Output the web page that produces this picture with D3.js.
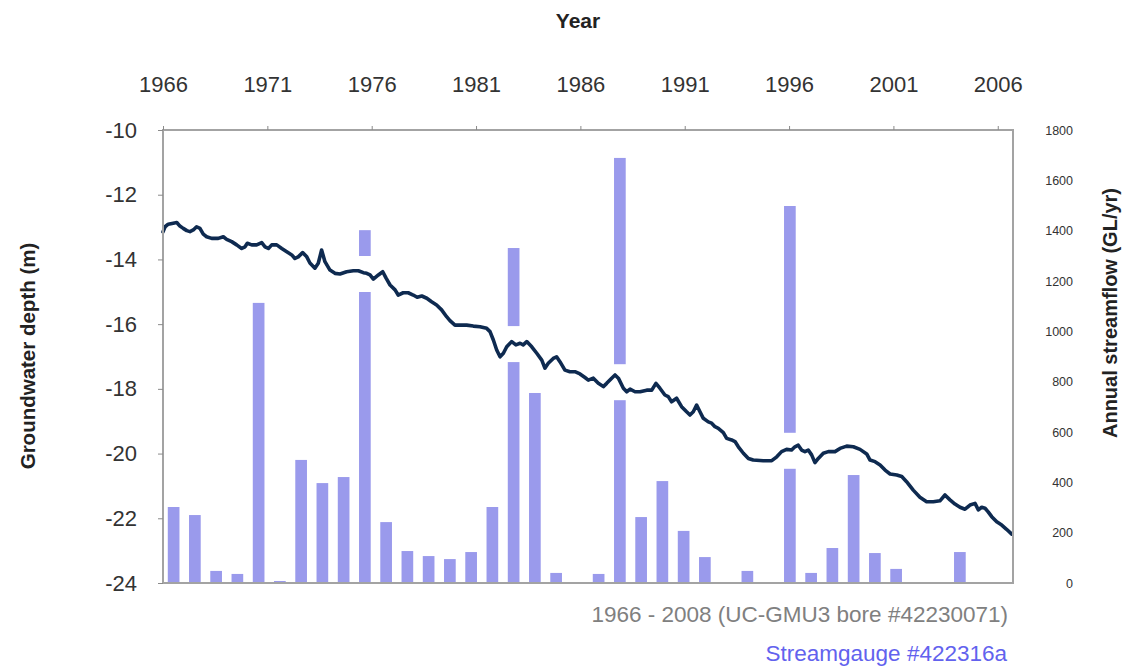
<!DOCTYPE html>
<html><head><meta charset="utf-8">
<script src="https://cdn.jsdelivr.net/npm/d3@7"></script>
<style>body{margin:0;background:#fff}svg{display:block}</style>
</head><body>
<svg id="chart" width="1128" height="672"></svg>
<script>
const flowYears = [1966,1967,1968,1969,1970,1971,1972,1973,1974,1975,1976,1977,1978,1979,1980,1981,1982,1983,1984,1985,1986,1987,1988,1989,1990,1991,1992,1993,1994,1995,1996,1997,1998,1999,2000,2001,2002,2003,2004,2005];
const flowValues = [302,270,48,36,1113,8,489,397,421,1402,242,127,107,95,123,302,1331,755,40,0,36,1689,262,405,207,103,0,48,0,1498,40,139,429,119,56,0,0,123,0,0];

const gwYears = [1966.00,1966.10,1966.25,1966.49,1966.66,1966.81,1966.97,1967.14,1967.29,1967.45,1967.61,1967.77,1967.93,1968.09,1968.33,1968.65,1968.89,1969.05,1969.29,1969.53,1969.77,1969.93,1970.04,1970.25,1970.49,1970.73,1970.89,1971.05,1971.21,1971.45,1971.69,1971.93,1972.17,1972.32,1972.48,1972.69,1972.89,1973.04,1973.28,1973.44,1973.60,1973.76,1974.00,1974.24,1974.48,1974.80,1975.12,1975.36,1975.60,1975.76,1975.92,1976.08,1976.32,1976.53,1976.69,1976.88,1977.12,1977.27,1977.51,1977.75,1977.99,1978.18,1978.40,1978.64,1978.87,1979.11,1979.35,1979.59,1979.75,1979.99,1980.23,1980.55,1980.87,1981.19,1981.51,1981.67,1981.83,1981.99,1982.15,1982.31,1982.47,1982.71,1982.91,1983.11,1983.26,1983.43,1983.67,1983.91,1984.15,1984.30,1984.46,1984.70,1984.86,1985.02,1985.26,1985.50,1985.74,1985.98,1986.22,1986.38,1986.62,1986.86,1987.10,1987.26,1987.50,1987.66,1987.82,1988.06,1988.22,1988.38,1988.62,1988.86,1989.18,1989.42,1989.62,1989.81,1990.05,1990.21,1990.37,1990.61,1990.85,1991.09,1991.25,1991.41,1991.57,1991.73,1991.89,1992.13,1992.29,1992.45,1992.61,1992.85,1993.01,1993.25,1993.41,1993.57,1993.81,1994.05,1994.28,1994.76,1995.17,1995.41,1995.64,1995.88,1996.12,1996.28,1996.44,1996.60,1996.76,1996.92,1997.08,1997.24,1997.40,1997.64,1997.88,1998.20,1998.44,1998.76,1999.08,1999.40,1999.72,1999.88,2000.12,2000.36,2000.60,2000.84,2001.16,2001.40,2001.63,2001.95,2002.27,2002.59,2002.91,2003.23,2003.47,2003.71,2003.95,2004.19,2004.43,2004.67,2004.91,2005.07,2005.23,2005.39,2005.54,2005.71,2005.95,2006.19,2006.42,2006.67];
const gwDepth = [-13.15,-12.99,-12.91,-12.88,-12.86,-12.97,-13.04,-13.11,-13.14,-13.09,-12.99,-13.04,-13.22,-13.30,-13.35,-13.35,-13.30,-13.38,-13.45,-13.55,-13.66,-13.61,-13.50,-13.55,-13.55,-13.48,-13.61,-13.66,-13.55,-13.55,-13.66,-13.76,-13.86,-13.97,-13.92,-13.79,-13.92,-14.11,-14.27,-14.12,-13.71,-14.07,-14.33,-14.43,-14.45,-14.38,-14.35,-14.35,-14.41,-14.43,-14.48,-14.61,-14.48,-14.38,-14.58,-14.79,-14.94,-15.10,-15.03,-15.03,-15.10,-15.17,-15.13,-15.20,-15.31,-15.41,-15.56,-15.77,-15.89,-16.03,-16.03,-16.03,-16.06,-16.08,-16.13,-16.23,-16.49,-16.80,-17.01,-16.90,-16.70,-16.54,-16.64,-16.59,-16.64,-16.54,-16.70,-16.90,-17.11,-17.36,-17.21,-17.06,-17.01,-17.16,-17.42,-17.47,-17.47,-17.54,-17.65,-17.73,-17.67,-17.83,-17.93,-17.83,-17.67,-17.57,-17.67,-17.98,-18.09,-18.01,-18.09,-18.09,-18.04,-18.04,-17.83,-17.98,-18.19,-18.24,-18.40,-18.29,-18.55,-18.71,-18.81,-18.71,-18.50,-18.71,-18.91,-19.02,-19.06,-19.17,-19.22,-19.35,-19.53,-19.58,-19.63,-19.79,-19.99,-20.15,-20.20,-20.22,-20.22,-20.10,-19.94,-19.87,-19.89,-19.79,-19.74,-19.89,-19.94,-19.89,-20.04,-20.28,-20.15,-19.99,-19.94,-19.94,-19.84,-19.77,-19.79,-19.87,-20.01,-20.20,-20.25,-20.35,-20.51,-20.63,-20.66,-20.71,-20.87,-21.13,-21.35,-21.49,-21.49,-21.46,-21.28,-21.43,-21.56,-21.66,-21.72,-21.59,-21.54,-21.74,-21.66,-21.69,-21.80,-21.95,-22.11,-22.21,-22.34,-22.49];

const yearTicks = [1966,1971,1976,1981,1986,1991,1996,2001,2006];
const depthTicks = [-10,-12,-14,-16,-18,-20,-22,-24];
const flowTicks = [0,200,400,600,800,1000,1200,1400,1600,1800];

const titleText = "Year";
const leftTitle = "Groundwater depth (m)";
const rightTitle = "Annual streamflow (GL/yr)";
const note1 = "1966 - 2008 (UC-GMU3 bore #42230071)";
const note2 = "Streamgauge #422316a";

const svg = d3.select('#chart');
const L = 163, R = 1013, T = 130, B = 583;
const FONT = "'Liberation Sans', Arial, sans-serif";

const xTime = d3.scaleLinear().domain([1966, 2006.73]).range([L, R]);
const xBand = d3.scaleBand().domain(flowYears).range([L, R]).paddingInner(0.45).paddingOuter(0.225);
const yDepth = d3.scaleLinear().domain([-24, -10]).range([B, T]);
const yFlow = d3.scaleLinear().domain([0, 1800]).range([B, T]);

svg.append('rect').attr('width', 1128).attr('height', 672).attr('fill', '#fff');

const gwData = gwYears.map((y, i) => [y, gwDepth[i]]).filter(d => d[1] !== undefined);
const bis = d3.bisector(d => d[0]).left;
function depthAt(yr) {
  let i = bis(gwData, yr);
  if (i <= 0) return gwData[0][1];
  if (i >= gwData.length) return gwData[gwData.length - 1][1];
  const a = gwData[i - 1], b = gwData[i];
  const t = (yr - a[0]) / (b[0] - a[0]);
  return a[1] + t * (b[1] - a[1]);
}

// bars
const flowData = flowYears.map((y, i) => ({year: y, v: flowValues[i]})).filter(d => d.v > 0);
svg.append('g').selectAll('rect').data(flowData).join('rect')
  .attr('x', d => xBand(d.year))
  .attr('width', xBand.bandwidth())
  .attr('y', d => yFlow(d.v))
  .attr('height', d => yFlow(0) - yFlow(d.v))
  .attr('fill', '#9a9aec');

// white gaps where the line crosses a bar
const gapData = flowData.map(d => {
  const cx = xBand(d.year) + xBand.bandwidth() / 2;
  const ly = yDepth(depthAt(xTime.invert(cx)));
  return {year: d.year, v: d.v, ly: ly};
}).filter(d => yFlow(d.v) < d.ly + 19);
svg.append('g').selectAll('rect').data(gapData).join('rect')
  .attr('x', d => xBand(d.year) - 1)
  .attr('width', xBand.bandwidth() + 2)
  .attr('y', d => Math.max(yFlow(d.v), d.ly - 17))
  .attr('height', d => d.ly + 19 - Math.max(yFlow(d.v), d.ly - 17))
  .attr('fill', '#fff');

// groundwater line
const line = d3.line().x(d => xTime(d[0])).y(d => yDepth(d[1]));
svg.append('path').datum(gwData).attr('d', line)
  .attr('fill', 'none').attr('stroke', '#0e2a50').attr('stroke-width', 3.6)
  .attr('stroke-linejoin', 'round').attr('stroke-linecap', 'round');

// frame
svg.append('rect').attr('x', L).attr('y', T).attr('width', R - L).attr('height', B - T)
  .attr('fill', 'none').attr('stroke', '#a3a3a3').attr('stroke-width', 2);

// top axis
const gTop = svg.append('g').attr('transform', `translate(0,${T})`)
  .call(d3.axisTop(xTime).tickValues(yearTicks).tickFormat(d => String(d)).tickSize(4).tickPadding(34));
gTop.select('.domain').remove();
gTop.selectAll('line').attr('stroke', '#8a8a8a');
gTop.selectAll('text').attr('font-family', FONT).attr('font-size', 22).attr('fill', '#333');

// left axis
const gLeft = svg.append('g').attr('transform', `translate(${L},0)`)
  .call(d3.axisLeft(yDepth).tickValues(depthTicks).tickFormat(d => String(d)).tickSize(5).tickPadding(21));
gLeft.select('.domain').remove();
gLeft.selectAll('line').attr('stroke', '#8a8a8a');
gLeft.selectAll('text').attr('font-family', FONT).attr('font-size', 22).attr('fill', '#333');

// right axis
const gRight = svg.append('g').attr('transform', `translate(${R},0)`)
  .call(d3.axisRight(yFlow).tickValues(flowTicks).tickFormat(d => String(d)).tickSize(0).tickPadding(60));
gRight.select('.domain').remove();
gRight.selectAll('text').attr('font-family', FONT).attr('font-size', 12.5).attr('fill', '#333')
  .attr('text-anchor', 'end');

// titles
svg.append('text').attr('x', 578).attr('y', 28).attr('text-anchor', 'middle')
  .attr('font-family', FONT).attr('font-weight', 'bold').attr('font-size', 21).attr('fill', '#222')
  .text(titleText);
svg.append('text').attr('transform', 'translate(28,356) rotate(-90)').attr('dy', '0.35em')
  .attr('text-anchor', 'middle').attr('font-family', FONT).attr('font-weight', 'bold')
  .attr('font-size', 20.5).attr('fill', '#222').text(leftTitle);
svg.append('text').attr('transform', 'translate(1110,313) rotate(-90)').attr('dy', '0.35em')
  .attr('text-anchor', 'middle').attr('font-family', FONT).attr('font-weight', 'bold')
  .attr('font-size', 20).attr('fill', '#222').text(rightTitle);

// notes
svg.append('text').attr('x', 1008).attr('y', 622).attr('text-anchor', 'end')
  .attr('font-family', FONT).attr('font-size', 22.5).attr('fill', '#808080')
  .text(note1);
svg.append('text').attr('x', 1007).attr('y', 661).attr('text-anchor', 'end')
  .attr('font-family', FONT).attr('font-size', 22.5).attr('fill', '#6262ee')
  .text(note2);
</script>
</body></html>
